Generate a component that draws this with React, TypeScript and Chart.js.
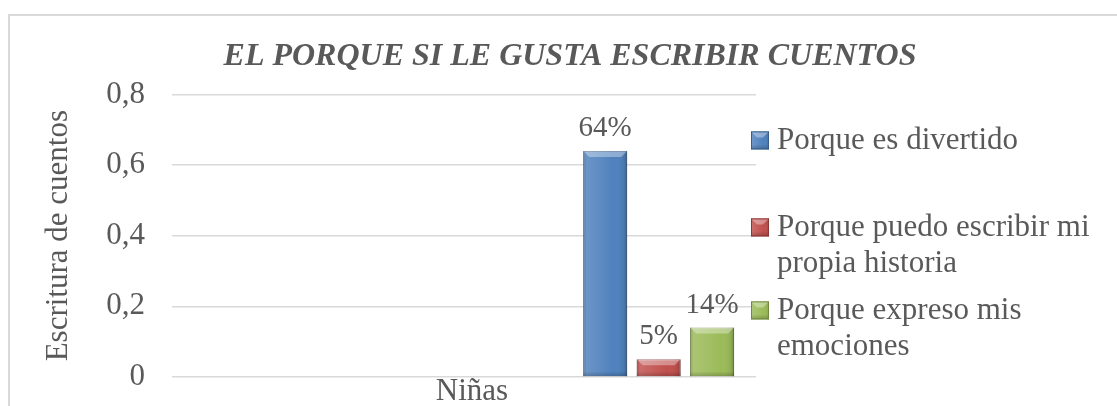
import React, { useEffect, useRef } from 'react';
import { Chart, registerables } from 'chart.js';

Chart.register(...registerables);

// ---- data ----
const categories = ['Niñas'];
const barSlots = ['slot-a', 'slot-b', 'Niñas'];
const seriesNames = [
  'Porque es divertido',
  'Porque puedo escribir mi propia historia',
  'Porque expreso mis emociones',
];
const legendLines = [
  ['Porque es divertido'],
  ['Porque puedo escribir mi', 'propia historia'],
  ['Porque expreso mis', 'emociones'],
];
const divertido = [0.64];
const propiaHistoria = [0.05];
const emociones = [0.14];
const yTicks = [0, 0.2, 0.4, 0.6, 0.8];
const yTickLabels = ['0', '0,2', '0,4', '0,6', '0,8'];
const titleText = 'EL PORQUE SI LE GUSTA ESCRIBIR CUENTOS';
const yTitleText = 'Escritura de cuentos';

// ---- styles ----
const FONT = "'Liberation Serif', 'Times New Roman', serif";
const TEXT = '#595959';
const seriesColors = ['#4f81bd', '#c0504d', '#9bbb59'];
const seriesDark = ['#385d8a', '#8c3836', '#71893f'];

function paintBevel(ctx: CanvasRenderingContext2D, left: number, top: number, w: number, h: number) {
  if (w <= 0 || h <= 0) return;
  const g = ctx.createLinearGradient(left, 0, left + w, 0);
  g.addColorStop(0, 'rgba(0,0,0,0.22)');
  g.addColorStop(0.07, 'rgba(255,255,255,0.16)');
  g.addColorStop(0.3, 'rgba(255,255,255,0.10)');
  g.addColorStop(0.7, 'rgba(255,255,255,0)');
  g.addColorStop(0.93, 'rgba(0,0,0,0.08)');
  g.addColorStop(1, 'rgba(0,0,0,0.28)');
  ctx.fillStyle = g;
  ctx.fillRect(left, top, w, h);
  const b = Math.min(6, h / 2, w / 2);
  ctx.beginPath();
  ctx.moveTo(left, top);
  ctx.lineTo(left + w, top);
  ctx.lineTo(left + w - b, top + b);
  ctx.lineTo(left + b, top + b);
  ctx.closePath();
  ctx.fillStyle = 'rgba(255,255,255,0.35)';
  ctx.fill();
  const g2 = ctx.createLinearGradient(0, top + h - 5, 0, top + h);
  g2.addColorStop(0, 'rgba(0,0,0,0)');
  g2.addColorStop(1, 'rgba(0,0,0,0.2)');
  ctx.fillStyle = g2;
  ctx.fillRect(left, top + h - 5, w, 5);
}

const barDecor = {
  id: 'barDecor',
  afterDatasetsDraw(chart: any) {
    const ctx: CanvasRenderingContext2D = chart.ctx;
    ctx.save();
    chart.data.datasets.forEach((ds: any, di: number) => {
      const meta = chart.getDatasetMeta(di);
      meta.data.forEach((el: any, i: number) => {
        const { x, y, base, width } = el.getProps(['x', 'y', 'base', 'width'], true);
        const top = Math.min(y, base);
        const h = Math.abs(base - y);
        paintBevel(ctx, x - width / 2, top, width, h);
        const raw = ds.data[i];
        const v = typeof raw === 'object' ? raw.y : raw;
        ctx.fillStyle = TEXT;
        ctx.font = `29px ${FONT}`;
        ctx.textAlign = 'center';
        ctx.textBaseline = 'alphabetic';
        ctx.fillText(Math.round(v * 100) + '%', x, top - 15);
      });
    });
    ctx.restore();
  },
};

const sideLegend = {
  id: 'sideLegend',
  afterDraw(chart: any) {
    const ctx: CanvasRenderingContext2D = chart.ctx;
    const area = chart.chartArea;
    const firstLine = [46, 133, 216];
    const lineH = 36;
    const box = 18;
    const x0 = area.right - 5;
    ctx.save();
    legendLines.forEach((lines, i) => {
      const cy = area.top + firstLine[i];
      ctx.fillStyle = seriesColors[i];
      ctx.fillRect(x0, cy - box / 2, box, box);
      paintBevel(ctx, x0, cy - box / 2, box, box);
      ctx.strokeStyle = seriesDark[i];
      ctx.lineWidth = 1;
      ctx.strokeRect(x0 + 0.5, cy - box / 2 + 0.5, box - 1, box - 1);
      ctx.fillStyle = TEXT;
      ctx.font = `31px ${FONT}`;
      ctx.textAlign = 'left';
      ctx.textBaseline = 'middle';
      lines.forEach((t, li) => ctx.fillText(t, x0 + 26, cy + li * lineH));
    });
    ctx.restore();
  },
};

export default function App() {
  const ref = useRef<HTMLCanvasElement | null>(null);

  useEffect(() => {
    if (!ref.current) return;
    const seriesData = [divertido, propiaHistoria, emociones];
    const chart = new Chart(ref.current, {
      type: 'bar',
      data: {
        datasets: seriesData.map((vals, si) => ({
          label: seriesNames[si],
          data: categories.map((c, ci) => ({ x: c, y: vals[ci] })),
          xAxisID: 'xBars',
          yAxisID: 'y',
          backgroundColor: seriesColors[si],
          borderColor: seriesDark[si],
          borderWidth: 1,
          categoryPercentage: 0.824,
          barPercentage: 0.822,
        })),
      },
      options: {
        animation: false,
        responsive: false,
        maintainAspectRatio: false,
        layout: { padding: 0 },
        plugins: {
          legend: { display: false },
          tooltip: { enabled: false },
          title: {
            display: true,
            text: titleText,
            color: TEXT,
            font: { family: FONT, size: 32, style: 'italic', weight: 'bold', lineHeight: 1.2 },
            padding: { top: 22, bottom: 18 },
          },
        },
        scales: {
          x: {
            type: 'category',
            labels: categories,
            offset: true,
            grid: { display: false, drawTicks: false },
            border: { display: false },
            ticks: { color: TEXT, font: { family: FONT, size: 31, lineHeight: 1.2 }, padding: -4, labelOffset: 8 },
            afterFit: (s: any) => { s.height = 55; },
          },
          xBars: {
            type: 'category',
            labels: barSlots,
            offset: true,
            display: false,
          },
          y: {
            type: 'linear',
            min: 0,
            max: 0.8,
            ticks: {
              stepSize: 0.2,
              color: TEXT,
              padding: 27,
              font: { family: FONT, size: 31, lineHeight: 1.2 },
              callback: (value: any) => {
                const idx = yTicks.findIndex((t) => Math.abs(t - Number(value)) < 1e-9);
                return idx >= 0 ? yTickLabels[idx] : '';
              },
            },
            grid: { color: '#d9d9d9', lineWidth: 1.5, drawTicks: false },
            border: { display: false },
            title: {
              display: true,
              text: yTitleText,
              color: TEXT,
              font: { family: FONT, size: 31, lineHeight: 1.2 },
              padding: { top: 30, bottom: 0 },
            },
            afterFit: (s: any) => { s.width = 162; },
          },
          legendSpace: {
            type: 'linear',
            position: 'right',
            display: true,
            ticks: { display: false },
            grid: { display: false, drawTicks: false },
            border: { display: false },
            afterFit: (s: any) => { s.width = 374; },
          },
        },
      },
      plugins: [barDecor, sideLegend],
    } as any);
    return () => chart.destroy();
  }, []);

  return (
    <div style={{ position: 'fixed', left: 0, top: 0, width: 1117, height: 406, overflow: 'hidden', background: '#fff' }}>
      <div
        style={{
          position: 'absolute',
          left: 8,
          top: 14,
          width: 1124,
          height: 420,
          border: '2px solid #d9d9d9',
          boxSizing: 'border-box',
          background: '#fff',
        }}
      >
        <canvas ref={ref} width={1120} height={416} style={{ display: 'block', width: 1120, height: 416 }} />
      </div>
    </div>
  );
}
